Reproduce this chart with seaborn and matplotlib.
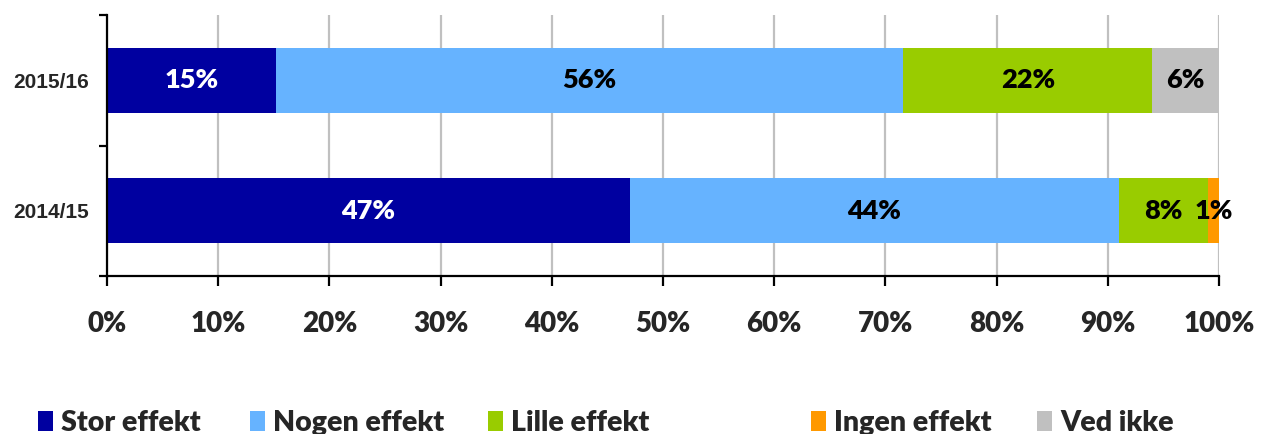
import matplotlib
matplotlib.use("Agg")
import matplotlib.pyplot as plt
from matplotlib.patches import Patch
from matplotlib.ticker import FixedLocator, FuncFormatter
import numpy as np
import pandas as pd
import seaborn as sns

# Share of answers per school year (percent)
years = ["2015/16", "2014/15"]
stor_effekt = [15.2, 47.0]
nogen_effekt = [56.4, 44.0]
lille_effekt = [22.4, 8.0]
ingen_effekt = [0.0, 1.0]
ved_ikke = [6.0, 0.0]

series_names = ["Stor effekt", "Nogen effekt", "Lille effekt", "Ingen effekt", "Ved ikke"]
series_values = [stor_effekt, nogen_effekt, lille_effekt, ingen_effekt, ved_ikke]
colors = ["#0000A0", "#66B3FF", "#99CC00", "#FF9900", "#C0C0C0"]
label_colors = ["white", "black", "black", "black", "black"]

WEIGHT = "heavy"

sns.set_theme(style="white")
plt.rcParams["font.family"] = ["Lato", "DejaVu Sans"]
plt.rcParams["font.weight"] = WEIGHT

fig = plt.figure(figsize=(12.66, 4.34), dpi=100)
ax = fig.add_axes([107 / 1266, 1 - 276 / 434, (1219 - 107) / 1266, (276 - 15) / 434])

# Long-form table with cumulative ends for the stacked bars
rows = []
for name, vals in zip(series_names, series_values):
    for yr, v in zip(years, vals):
        rows.append({"year": yr, "series": name, "value": v})
df = pd.DataFrame(rows)
df["end"] = df.groupby("year")["value"].cumsum()
df["start"] = df["end"] - df["value"]

# Draw cumulative bars from the outermost segment inwards
for name, color in reversed(list(zip(series_names, colors))):
    sub = df[df["series"] == name]
    sns.barplot(data=sub, x="end", y="year", order=years, color=color,
                width=0.5, orient="h", ax=ax, saturation=1, zorder=2,
                edgecolor="none", linewidth=0)

# Value labels in the middle of each segment
ypos = {yr: i for i, yr in enumerate(years)}
for name, lc in zip(series_names, label_colors):
    sub = df[df["series"] == name]
    for _, r in sub.iterrows():
        if r["value"] <= 0:
            continue
        ax.text((r["start"] + r["end"]) / 2, ypos[r["year"]], f"{r['value']:.0f}%",
                ha="center", va="center", color=lc, fontsize=19.5,
                fontweight=WEIGHT, zorder=5)

ax.set_xlim(0, 100)
ax.set_ylim(1.5, -0.5)
ax.set_xlabel("")
ax.set_ylabel("")

ax.xaxis.set_major_locator(FixedLocator(np.arange(0, 101, 10)))
ax.xaxis.set_major_formatter(FuncFormatter(lambda v, p: f"{v:.0f}%"))
ax.grid(axis="x", color="#C0C0C0", linewidth=1.6, zorder=0)
ax.grid(axis="y", visible=False)
ax.set_axisbelow(True)

for s in ["top", "right"]:
    ax.spines[s].set_visible(False)
for s in ["left", "bottom"]:
    ax.spines[s].set_color("black")
    ax.spines[s].set_linewidth(1.6)
    ax.spines[s].set_zorder(6)

ax.tick_params(axis="x", which="major", direction="out", length=7, width=1.6,
               color="black", bottom=True, pad=18, labelsize=20)
for lab in ax.get_xticklabels():
    lab.set_fontweight(WEIGHT)

ax.set_yticks(range(len(years)))
ax.set_yticklabels(years)
ax.yaxis.set_minor_locator(FixedLocator([-0.5, 0.5, 1.5]))
ax.tick_params(axis="y", which="major", length=0, pad=13, labelsize=15)
ax.tick_params(axis="y", which="minor", direction="out", length=6, width=1.6,
               color="black", left=True)
for lab in ax.get_yticklabels():
    lab.set_fontfamily(["Liberation Sans", "DejaVu Sans"])
    lab.set_fontweight("bold")

# Legend entries placed individually along the bottom
legend_x = [38, 250, 488, 811, 1037]
for name, color, lx in zip(series_names, colors, legend_x):
    fig.legend(handles=[Patch(facecolor=color, edgecolor="none", label=name)],
               loc="upper left", bbox_to_anchor=(lx / 1266, 1 - 410 / 434),
               frameon=False, handlelength=0.52, handleheight=0.65,
               handletextpad=0.3, borderpad=0, borderaxespad=0,
               prop={"family": ["Lato", "DejaVu Sans"], "weight": WEIGHT, "size": 20.5})

fig.savefig("out.png", dpi=100)
